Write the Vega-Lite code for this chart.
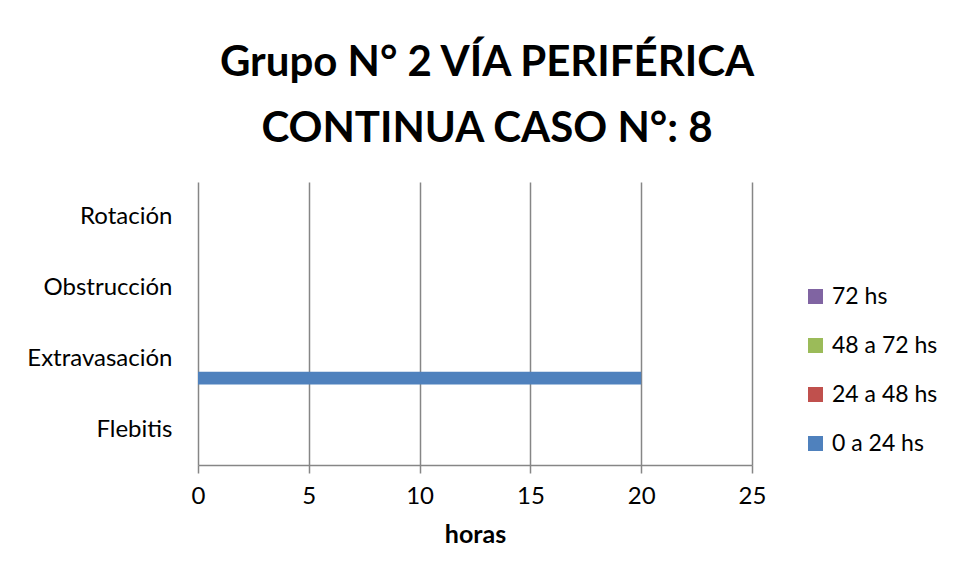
{
  "$schema": "https://vega.github.io/schema/vega-lite/v6.json",
  "width": 554,
  "height": 283,
  "autosize": {"type": "none"},
  "padding": {"left": 198, "top": 182, "right": 203, "bottom": 115},
  "background": "white",
  "title": {
    "text": ["Grupo N° 2 VÍA PERIFÉRICA", "CONTINUA CASO N°: 8"],
    "font": "Lato",
    "fontSize": 42,
    "fontWeight": "bold",
    "color": "#000000",
    "lineHeight": 66,
    "anchor": "middle",
    "dx": 12,
    "offset": 31
  },
  "data": {
    "values": [
      {"categoria": "Flebitis", "serie": "0 a 24 hs", "horas": 0},
      {"categoria": "Flebitis", "serie": "24 a 48 hs", "horas": 0},
      {"categoria": "Flebitis", "serie": "48 a 72 hs", "horas": 0},
      {"categoria": "Flebitis", "serie": "72 hs", "horas": 0},
      {"categoria": "Extravasación", "serie": "0 a 24 hs", "horas": 20},
      {"categoria": "Extravasación", "serie": "24 a 48 hs", "horas": 0},
      {"categoria": "Extravasación", "serie": "48 a 72 hs", "horas": 0},
      {"categoria": "Extravasación", "serie": "72 hs", "horas": 0},
      {"categoria": "Obstrucción", "serie": "0 a 24 hs", "horas": 0},
      {"categoria": "Obstrucción", "serie": "24 a 48 hs", "horas": 0},
      {"categoria": "Obstrucción", "serie": "48 a 72 hs", "horas": 0},
      {"categoria": "Obstrucción", "serie": "72 hs", "horas": 0},
      {"categoria": "Rotación", "serie": "0 a 24 hs", "horas": 0},
      {"categoria": "Rotación", "serie": "24 a 48 hs", "horas": 0},
      {"categoria": "Rotación", "serie": "48 a 72 hs", "horas": 0},
      {"categoria": "Rotación", "serie": "72 hs", "horas": 0}
    ]
  },
  "mark": {"type": "bar", "orient": "horizontal"},
  "encoding": {
    "y": {
      "field": "categoria",
      "type": "nominal",
      "sort": ["Rotación", "Obstrucción", "Extravasación", "Flebitis"],
      "scale": {"paddingInner": 0, "paddingOuter": 0},
      "axis": {
        "title": null,
        "ticks": false,
        "domain": false,
        "grid": false,
        "labelFont": "Lato",
        "labelFontSize": 24,
        "labelColor": "#000000",
        "labelPadding": 26
      }
    },
    "yOffset": {
      "field": "serie",
      "type": "nominal",
      "sort": ["72 hs", "48 a 72 hs", "24 a 48 hs", "0 a 24 hs"],
      "scale": {"paddingInner": 0, "paddingOuter": 0.75}
    },
    "x": {
      "field": "horas",
      "type": "quantitative",
      "scale": {"domain": [0, 25], "nice": false},
      "axis": {
        "title": "horas",
        "values": [0, 5, 10, 15, 20, 25],
        "grid": true,
        "gridColor": "#868686",
        "gridWidth": 1.5,
        "domainColor": "#868686",
        "domainWidth": 1.5,
        "tickColor": "#868686",
        "tickWidth": 1.5,
        "tickSize": 8,
        "labelFlush": false,
        "labelFont": "Lato",
        "labelFontSize": 24,
        "labelColor": "#000000",
        "labelPadding": 11,
        "titleFont": "Lato",
        "titleFontSize": 25,
        "titleFontWeight": "bold",
        "titleColor": "#000000",
        "titlePadding": 14
      }
    },
    "color": {
      "field": "serie",
      "type": "nominal",
      "scale": {
        "domain": ["72 hs", "48 a 72 hs", "24 a 48 hs", "0 a 24 hs"],
        "range": ["#8064A2", "#9BBB59", "#C0504D", "#4F81BD"]
      },
      "legend": {
        "title": null,
        "orient": "none",
        "legendX": 606,
        "legendY": 103,
        "padding": 0,
        "symbolType": "square",
        "symbolSize": 225,
        "symbolStrokeWidth": 0,
        "labelFont": "Lato",
        "labelFontSize": 23,
        "labelColor": "#000000",
        "labelOffset": 5,
        "rowPadding": 25
      }
    }
  },
  "config": {
    "view": {"stroke": null}
  }
}
